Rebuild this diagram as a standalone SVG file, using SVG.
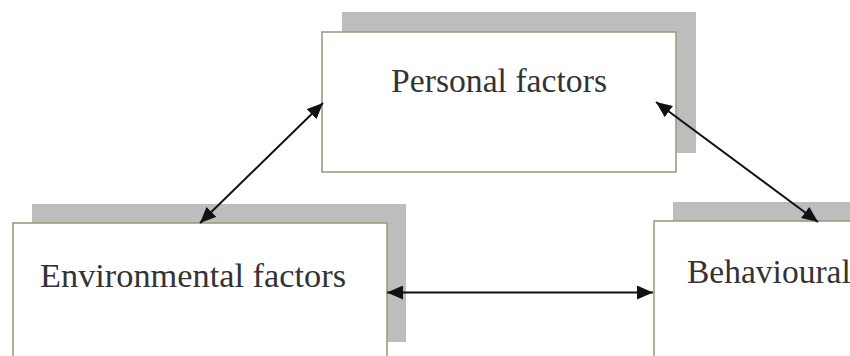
<svg xmlns="http://www.w3.org/2000/svg" width="850" height="356" viewBox="0 0 850 356">
  <style>
    .shadow { fill: #bdbdbd; }
    .box { fill: #ffffff; stroke: #9c9c84; stroke-width: 1.6; }
    .label { font-family: "Liberation Serif", "DejaVu Serif", serif; font-size: 33.5px; fill: #333333; }
    .conn { stroke: #111111; stroke-width: 2; fill: none; marker-start: url(#arrowS); marker-end: url(#arrowE); }
  </style>
  <defs>
    <marker id="arrowE" viewBox="0 0 16 14" refX="16" refY="7" markerWidth="16" markerHeight="14" markerUnits="userSpaceOnUse" orient="auto">
      <path d="M0,0 L16,7 L0,14 z" fill="#111111"/>
    </marker>
    <marker id="arrowS" viewBox="0 0 16 14" refX="0" refY="7" markerWidth="16" markerHeight="14" markerUnits="userSpaceOnUse" orient="auto">
      <path d="M16,0 L0,7 L16,14 z" fill="#111111"/>
    </marker>
  </defs>
  <rect width="850" height="356" fill="#ffffff"/>
  <g id="node-personal">
    <rect class="shadow" x="342" y="12" width="354" height="141"/>
    <rect class="box" x="322" y="32" width="354" height="140"/>
    <text class="label" x="391" y="92" textLength="216" lengthAdjust="spacingAndGlyphs">Personal factors</text>
  </g>
  <g id="node-environmental">
    <rect class="shadow" x="32" y="204" width="374" height="138"/>
    <rect class="box" x="13" y="223" width="374" height="140"/>
    <text class="label" x="40" y="287" textLength="306" lengthAdjust="spacingAndGlyphs">Environmental factors</text>
  </g>
  <g id="node-behavioural">
    <rect class="shadow" x="673" y="202" width="374" height="138"/>
    <rect class="box" x="654" y="221" width="374" height="140"/>
    <text class="label" x="687" y="283">Behavioural</text>
  </g>
  <g id="connectors">
    <line class="conn" x1="323" y1="103" x2="200" y2="223"/>
    <line class="conn" x1="656" y1="102" x2="818" y2="222"/>
    <line class="conn" x1="387" y1="292.5" x2="653" y2="292.5"/>
  </g>
</svg>
